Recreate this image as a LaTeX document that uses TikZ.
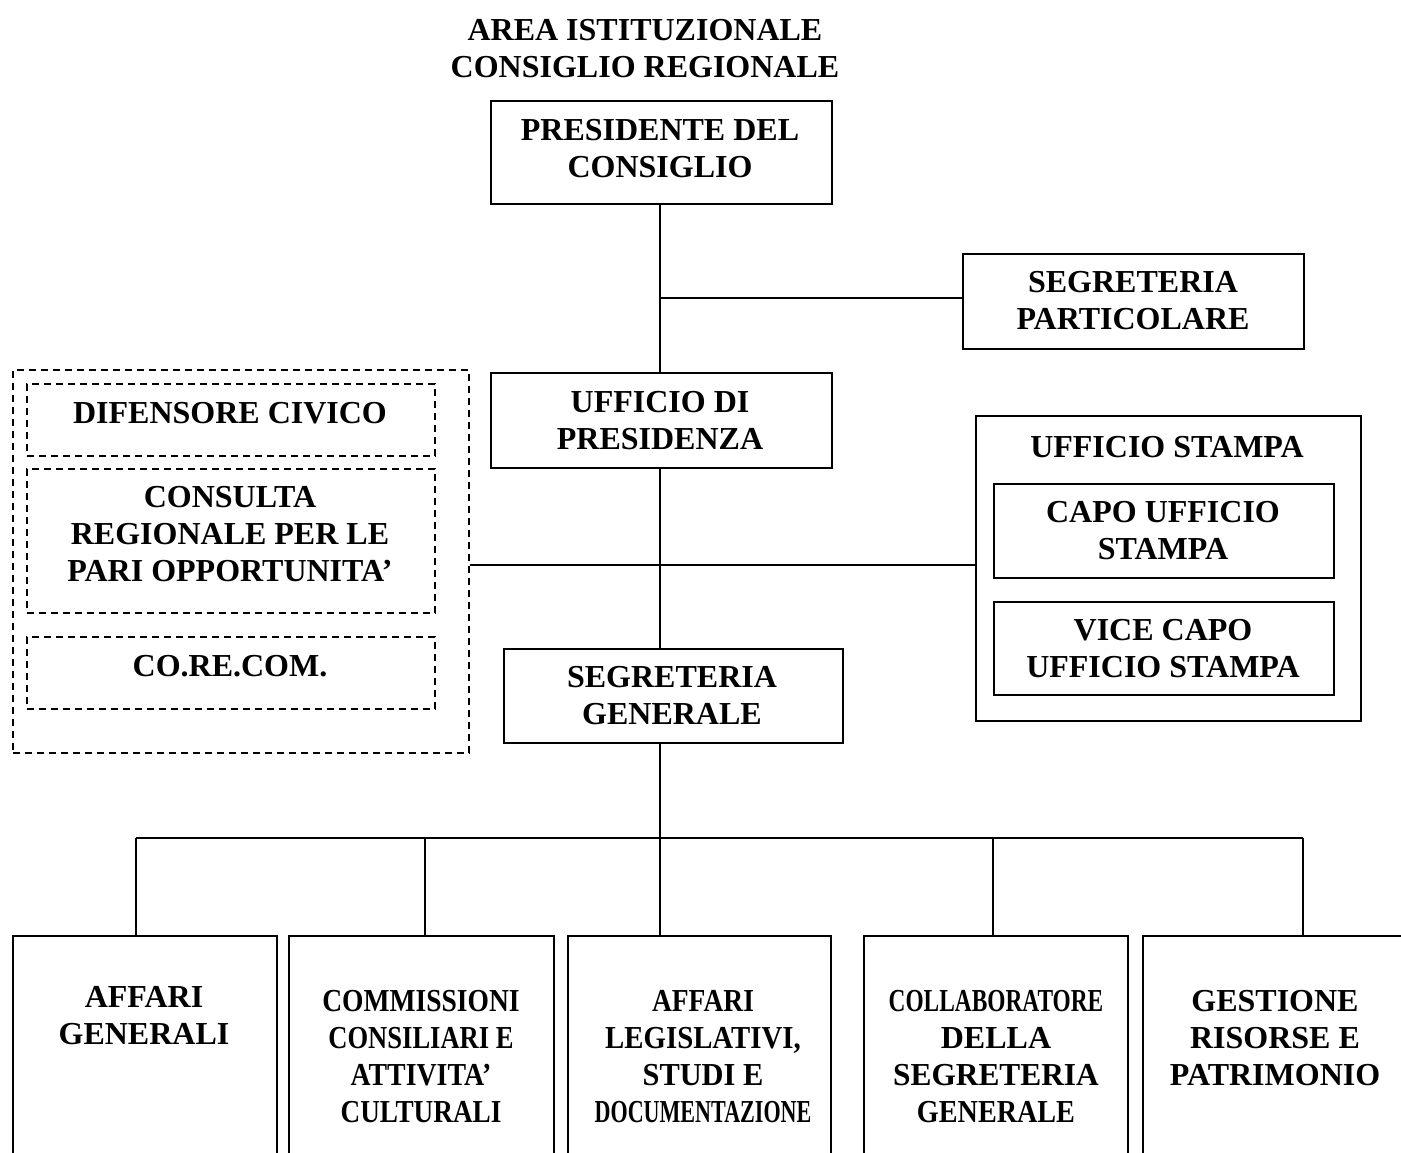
\documentclass[tikz,border=0pt]{standalone}
\usepackage{graphicx}
\usepackage{fontspec}
\setmainfont{Liberation Serif}
\newcommand\hsq[2]{\scalebox{#1}[1]{#2}}
\begin{document}
\begin{tikzpicture}[x=1pt,y=-1pt,
  box/.style={draw, line width=1.8pt, rectangle, inner sep=0pt, anchor=north west},
  dbox/.style={box, line width=1.5pt, dash pattern=on 7pt off 5pt},
  txt/.style={font=\bfseries\fontsize{32}{37}\selectfont, align=center, inner sep=0pt},
  conn/.style={line width=1.8pt}]
\path[use as bounding box, clip] (0,0) rectangle (1401,1153);
\fill[white] (0,0) rectangle (1401,1153);

% title
\node[txt] (title) at (645,48.5) {AREA ISTITUZIONALE\\CONSIGLIO REGIONALE};

% top boxes
\node[box, minimum width=341pt, minimum height=103pt] (pres) at (490,100) {};
\node[txt] (presT) at (660,148.5) {PRESIDENTE DEL\\CONSIGLIO};

\node[box, minimum width=341pt, minimum height=95pt] (segpart) at (962,253) {};
\node[txt] (segpartT) at (1133,301) {SEGRETERIA\\PARTICOLARE};

\node[box, minimum width=341pt, minimum height=95pt] (uff) at (490,372) {};
\node[txt] (uffT) at (660,420.5) {UFFICIO DI\\PRESIDENZA};

% left dashed group
\node[dbox, minimum width=456pt, minimum height=383pt] (grp) at (12,369) {};
\node[dbox, minimum width=408pt, minimum height=72pt] (dif) at (26,383) {};
\node[txt] (difT) at (230,413) {DIFENSORE CIVICO};
\node[dbox, minimum width=408pt, minimum height=144pt] (cons) at (26,468) {};
\node[txt] (consT) at (230,534.5) {CONSULTA\\REGIONALE PER LE\\PARI OPPORTUNITA’};
\node[dbox, minimum width=408pt, minimum height=72pt] (corecom) at (26,636) {};
\node[txt] (corecomT) at (230,666) {CO.RE.COM.};

% ufficio stampa
\node[box, minimum width=385pt, minimum height=305pt] (stampa) at (975,415) {};
\node[txt] (stampaT) at (1167,447) {UFFICIO STAMPA};
\node[box, minimum width=340pt, minimum height=94pt] (capo) at (993,483) {};
\node[txt] (capoT) at (1163,530.5) {CAPO UFFICIO\\STAMPA};
\node[box, minimum width=340pt, minimum height=93pt] (vice) at (993,601) {};
\node[txt] (viceT) at (1163,648.5) {VICE CAPO\\UFFICIO STAMPA};

% segreteria generale
\node[box, minimum width=339pt, minimum height=94pt] (seggen) at (503,648) {};
\node[txt] (seggenT) at (672,695.5) {SEGRETERIA\\GENERALE};

% bottom boxes
\node[box, minimum width=264pt, minimum height=260pt] (b1) at (12,935) {};
\node[txt] (b1T) at (144,1015.5) {AFFARI\\GENERALI};
\node[box, minimum width=265pt, minimum height=260pt] (b2) at (288,935) {};
\node[txt] (b2T) at (421,1056.5) {\hsq{0.86}{COMMISSIONI}\\\hsq{0.83}{CONSILIARI E}\\\hsq{0.87}{ATTIVITA’}\\\hsq{0.85}{CULTURALI}};
\node[box, minimum width=263pt, minimum height=260pt] (b3) at (567,935) {};
\node[txt] (b3T) at (703,1056.5) {\hsq{0.86}{AFFARI}\\\hsq{0.9}{LEGISLATIVI,}\\\hsq{0.95}{STUDI E}\\\hsq{0.69}{DOCUMENTAZIONE}};
\node[box, minimum width=264pt, minimum height=260pt] (b4) at (863,935) {};
\node[txt] (b4T) at (996,1056.5) {\hsq{0.73}{COLLABORATORE}\\DELLA\\\hsq{0.98}{SEGRETERIA}\\\hsq{0.88}{GENERALE}};
\node[box, minimum width=300pt, minimum height=260pt] (b5) at (1142,935) {};
\node[txt] (b5T) at (1275,1038) {GESTIONE\\RISORSE E\\PATRIMONIO};

% connectors
\coordinate (j1) at (660,298);
\coordinate (j2) at (660,565);
\coordinate (d1) at (136,838);
\coordinate (d2) at (425,838);
\coordinate (d3) at (660,838);
\coordinate (d4) at (993,838);
\coordinate (d5) at (1303,838);

\draw[conn] (pres.south -| j1) -- (uff.north -| j1);
\draw[conn] (j1) -- (segpart.west |- j1);
\draw[conn] (uff.south -| j1) -- (seggen.north -| j1);
\draw[conn] (grp.east |- j2) -- (stampa.west |- j2);
\draw[conn] (seggen.south -| d3) -- (d3);
\draw[conn] (d1) -- (d5);
\draw[conn] (d1) -- (b1.north -| d1);
\draw[conn] (d2) -- (b2.north -| d2);
\draw[conn] (d3) -- (b3.north -| d3);
\draw[conn] (d4) -- (b4.north -| d4);
\draw[conn] (d5) -- (b5.north -| d5);
\end{tikzpicture}
\end{document}
